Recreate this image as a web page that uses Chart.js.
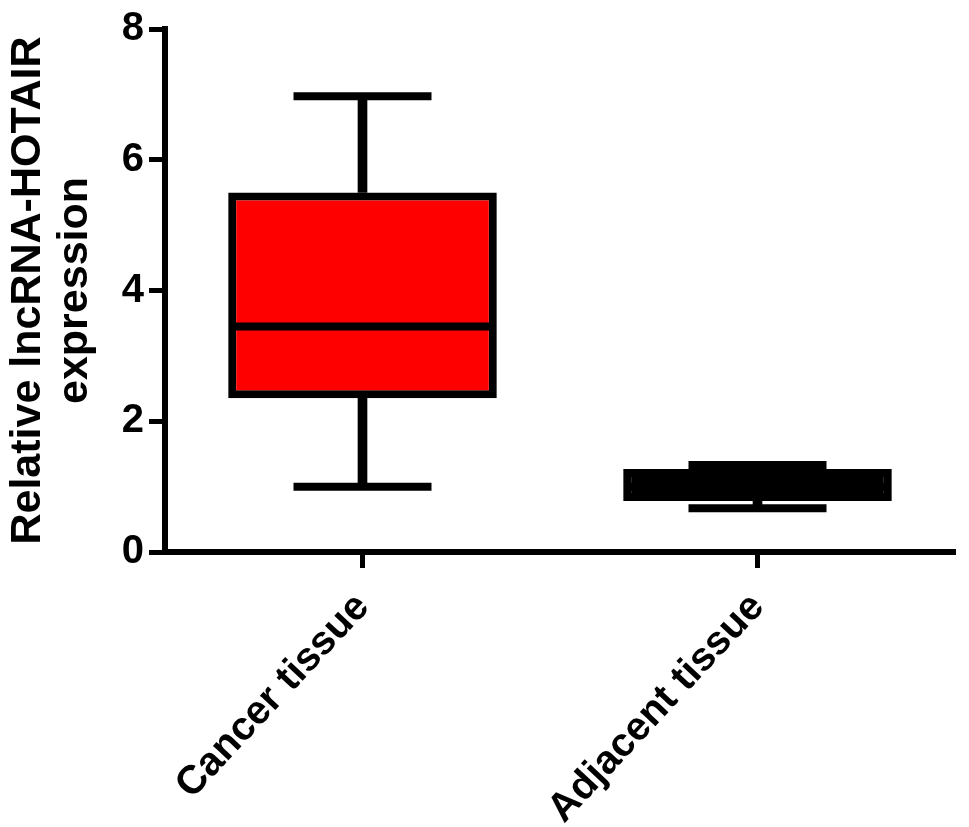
<!DOCTYPE html>
<html>
<head>
<meta charset="utf-8">
<script src="https://cdn.jsdelivr.net/npm/chart.js@4/dist/chart.umd.min.js"></script>
<style>
  html, body { margin: 0; padding: 0; background: #fff; }
</style>
</head>
<body>
<canvas id="box-chart" width="969" height="827"></canvas>
<script>
// categories and five-number summaries
const categories = ["Cancer tissue", "Adjacent tissue"];
const minVals = [1.0, 0.67];
const q1Vals = [2.35, 0.78];
const medianVals = [3.45, 1.0];
const q3Vals = [5.5, 1.27];
const maxVals = [6.97, 1.33];
const boxColors = ["rgb(255,0,0)", "rgb(0,0,0)"];
const yTicks = [0, 2, 4, 6, 8];

const FONT = "'Liberation Sans', Arial, sans-serif";

const boxData = categories.map((c, i) => [q1Vals[i], q3Vals[i]]);
const lowWhisker = categories.map((c, i) => [minVals[i], q1Vals[i]]);
const highWhisker = categories.map((c, i) => [q3Vals[i], maxVals[i]]);

const ctx = document.getElementById("box-chart");

new Chart(ctx, {
  type: "bar",
  data: {
    labels: categories,
    datasets: [
      {
        // median line
        type: "line",
        data: medianVals,
        showLine: false,
        pointStyle: "line",
        pointRadius: 130,
        pointBorderWidth: 8,
        pointBorderColor: "#000",
        order: 0,
      },
      {
        // whisker caps
        type: "line",
        data: minVals,
        showLine: false,
        pointStyle: "line",
        pointRadius: 69,
        pointBorderWidth: 8,
        pointBorderColor: "#000",
        order: 1,
      },
      {
        type: "line",
        data: maxVals,
        showLine: false,
        pointStyle: "line",
        pointRadius: 69,
        pointBorderWidth: 8,
        pointBorderColor: "#000",
        order: 1,
      },
      {
        // the boxes
        data: boxData,
        backgroundColor: boxColors,
        borderColor: "#000",
        borderWidth: 8,
        borderSkipped: false,
        barPercentage: 0.68,
        categoryPercentage: 1,
        grouped: false,
        order: 2,
      },
      {
        // whiskers
        data: lowWhisker,
        backgroundColor: "#000",
        barThickness: 9,
        grouped: false,
        order: 3,
      },
      {
        data: highWhisker,
        backgroundColor: "#000",
        barThickness: 9,
        grouped: false,
        order: 3,
      },
    ],
  },
  options: {
    responsive: false,
    animation: false,
    layout: {
      autoPadding: false,
      padding: { top: 29, right: 14, left: 0, bottom: 0 },
    },
    plugins: {
      legend: { display: false },
      tooltip: { enabled: false },
    },
    scales: {
      x: {
        offset: true,
        grid: {
          offset: false,
          drawOnChartArea: false,
          tickLength: 16,
          tickWidth: 5,
          tickColor: "#000",
        },
        border: { display: true, width: 6, color: "#000" },
        ticks: {
          color: "#000",
          font: { family: FONT, weight: "bold", size: 40 },
          minRotation: 47,
          maxRotation: 47,
          autoSkip: false,
          padding: 16,
        },
        afterFit: (scale) => {
          scale.height = 275;
          scale.paddingLeft = 0;
          scale.paddingRight = 0;
        },
      },
      y: {
        min: 0,
        max: 8,
        afterBuildTicks: (scale) => {
          scale.ticks = yTicks.map((v) => ({ value: v }));
        },
        grid: {
          drawOnChartArea: false,
          tickLength: 16,
          tickWidth: 5,
          tickColor: "#000",
        },
        border: { display: true, width: 6, color: "#000" },
        ticks: {
          color: "#000",
          font: { family: FONT, weight: "bold", size: 40 },
          padding: 5,
        },
        title: {
          display: true,
          text: ["Relative lncRNA-HOTAIR", "expression"],
          color: "#000",
          font: { family: FONT, weight: "bold", size: 43, lineHeight: 1.1 },
          padding: { top: 4, bottom: 0 },
        },
        afterFit: (scale) => {
          scale.width = 165;
          scale.paddingTop = 0;
          scale.paddingBottom = 0;
        },
      },
    },
  },
});
</script>
</body>
</html>
